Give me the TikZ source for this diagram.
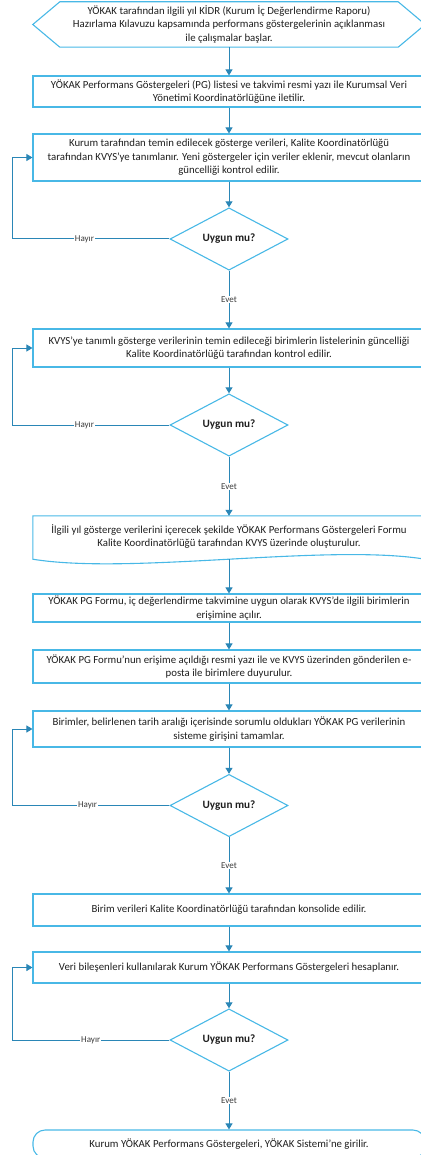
\documentclass[tikz,border=0pt]{standalone}
\usepackage{fontspec}
\setmainfont{Carlito}
\usetikzlibrary{shapes.geometric,arrows.meta,calc}
\definecolor{boxc}{RGB}{72,184,230}
\definecolor{arrc}{RGB}{42,134,182}
\definecolor{txt}{RGB}{30,30,30}
\definecolor{lblc}{RGB}{60,60,60}
\begin{document}
\begin{tikzpicture}[x=1pt,y=-1pt,
  every node/.style={text=txt},
  mainfont/.style={font=\fontsize{10.8}{13.6}\selectfont},
  boxln/.style={draw=boxc, line width=1.1pt},
  pbox/.style={boxln, rectangle, minimum width=392pt, inner sep=0pt, align=center, mainfont},
  ghost/.style={rectangle, minimum width=392pt, inner sep=0pt, align=center, mainfont},
  dec/.style={boxln, diamond, minimum width=118pt, minimum height=60pt, inner sep=0pt, font=\bfseries\fontsize{11.2}{12}\selectfont},
  arr/.style={draw=arrc, line width=1pt, -{Triangle[length=6pt,width=7pt]}},
  lbl/.style={fill=white, inner sep=0.8pt, text=lblc, font=\fontsize{9}{10}\selectfont}
]
\useasboundingbox (0,0) rectangle (420,1155);

% start hexagon
\node[ghost, minimum height=45pt] (hex) at (229,24.5) {YÖKAK tarafından ilgili yıl KİDR (Kurum İç Değerlendirme Raporu)\\Hazırlama Kılavuzu kapsamında performans göstergelerinin açıklanması\\ile çalışmalar başlar.};
\draw[boxln] (hex.west) -- ($(hex.north west)+(27,0)$) -- ($(hex.north east)+(-27,0)$) -- (hex.east) -- ($(hex.south east)+(-27,0)$) -- ($(hex.south west)+(27,0)$) -- cycle;

\node[pbox, minimum height=31pt] (b2) at (229,91.5) {YÖKAK Performans Göstergeleri (PG) listesi ve takvimi resmi yazı ile Kurumsal Veri\\Yönetimi Koordinatörlüğüne iletilir.};
\node[pbox, minimum height=47pt] (b3) at (229,157.5) {Kurum tarafından temin edilecek gösterge verileri, Kalite Koordinatörlüğü\\tarafından KVYS’ye tanımlanır. Yeni göstergeler için veriler eklenir, mevcut olanların\\güncelliği kontrol edilir.};
\node[dec] (d1) at (229,239) {Uygun mu?};
\node[pbox, minimum height=38pt] (b4) at (229,348) {KVYS’ye tanımlı gösterge verilerinin temin edileceği birimlerin listelerinin güncelliği\\Kalite Koordinatörlüğü tarafından kontrol edilir.};
\node[dec] (d2) at (229,425) {Uygun mu?};

% document shape
\node[ghost, minimum height=43pt, yshift=1pt] (doct) at (229,537.5) {İlgili yıl gösterge verilerini içerecek şekilde YÖKAK Performans Göstergeleri Formu\\Kalite Koordinatörlüğü tarafından KVYS üzerinde oluşturulur.};
\node[rectangle, minimum width=392pt, minimum height=43pt, inner sep=0pt] (doc) at (229,537.5) {};
\draw[boxln] (doc.south west) -- (doc.north west) -- (doc.north east) -- (doc.south east)
  .. controls ($(doc.south east)+(-98,-16)$) and ($(doc.south west)+(98,16)$) .. (doc.south west) -- cycle;

\node[pbox, minimum height=28pt] (b6) at (229,608) {YÖKAK PG Formu, iç değerlendirme takvimine uygun olarak KVYS’de ilgili birimlerin\\erişimine açılır.};
\node[pbox, minimum height=33pt] (b7) at (229,666.5) {YÖKAK PG Formu’nun erişime açıldığı resmi yazı ile ve KVYS üzerinden gönderilen e-\\posta ile birimlere duyurulur.};
\node[pbox, minimum height=36pt] (b8) at (229,729) {Birimler, belirlenen tarih aralığı içerisinde sorumlu oldukları YÖKAK PG verilerinin\\sisteme girişini tamamlar.};
\node[dec, minimum height=61pt] (d3) at (229,805.5) {Uygun mu?};
\node[pbox, minimum height=32pt] (b9) at (229,910) {Birim verileri Kalite Koordinatörlüğü tarafından konsolide edilir.};
\node[pbox, minimum height=31pt] (b10) at (229,967.5) {Veri bileşenleri kullanılarak Kurum YÖKAK Performans Göstergeleri hesaplanır.};
\node[dec] (d4) at (229,1040) {Uygun mu?};
\node[pbox, minimum height=28pt, rounded corners=12pt] (term) at (229,1144) {Kurum YÖKAK Performans Göstergeleri, YÖKAK Sistemi’ne girilir.};

% loop corners
\coordinate (l1) at (12,239);
\coordinate (l2) at (12,425);
\coordinate (l3) at (12,805.5);
\coordinate (l4) at (12,1040);

% connectors
\draw[arr] (hex.south) -- (b2.north);
\draw[arr] (b2.south) -- (b3.north);
\draw[arr] (b3.south) -- (d1.north);
\draw[arr] (d1.south) -- node[lbl]{Evet} (b4.north);
\draw[arr] (d1.west) -- node[lbl,pos=0.54]{Hayır} (l1) |- (b3.west);
\draw[arr] (b4.south) -- (d2.north);
\draw[arr] (d2.south) -- node[lbl]{Evet} (doc.north);
\draw[arr] (d2.west) -- node[lbl,pos=0.54]{Hayır} (l2) |- (b4.west);
\draw[arr] (doc.south) -- (b6.north);
\draw[arr] (b6.south) -- (b7.north);
\draw[arr] (b7.south) -- (b8.north);
\draw[arr] (b8.south) -- (d3.north);
\draw[arr] (d3.south) -- node[lbl]{Evet} (b9.north);
\draw[arr] (d3.west) -- node[lbl,pos=0.52]{Hayır} (l3) |- (b8.west);
\draw[arr] (b9.south) -- (b10.north);
\draw[arr] (b10.south) -- (d4.north);
\draw[arr] (d4.south) -- node[lbl]{Evet} (term.north);
\draw[arr] (d4.west) -- node[lbl,pos=0.5]{Hayır} (l4) |- (b10.west);
\end{tikzpicture}
\end{document}
